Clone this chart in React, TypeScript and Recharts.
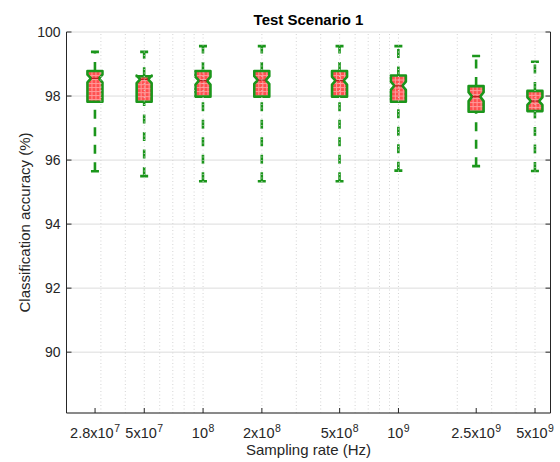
import React from 'react';
import { ComposedChart, Bar, XAxis, YAxis, CartesianGrid, ReferenceLine } from 'recharts';

const rates = [2.8e7, 5e7, 1e8, 2e8, 5e8, 1e9, 2.5e9, 5e9];
const xTickMant = ['2.8x10', '5x10', '10', '2x10', '5x10', '10', '2.5x10', '5x10'];
const xTickExp = ['7', '7', '8', '8', '8', '9', '9', '9'];
const upperCap = [99.38, 99.38, 99.56, 99.56, 99.56, 99.56, 99.25, 99.07];
const q3 = [98.78, 98.62, 98.78, 98.78, 98.78, 98.64, 98.31, 98.16];
const median = [98.55, 98.52, 98.48, 98.5, 98.48, 98.32, 97.98, 97.84];
const q1 = [97.82, 97.82, 97.98, 97.98, 97.98, 97.82, 97.51, 97.53];
const lowerCap = [95.65, 95.5, 95.34, 95.34, 95.34, 95.67, 95.81, 95.66];
const notch = [0.12, 0.12, 0.12, 0.12, 0.12, 0.13, 0.14, 0.12];
const yTicks = [90, 92, 94, 96, 98, 100];
const minorGrid = [
  3e7, 4e7, 5e7, 6e7, 7e7, 8e7, 9e7,
  1e8, 2e8, 3e8, 4e8, 5e8, 6e8, 7e8, 8e8, 9e8,
  1e9, 2e9, 3e9, 4e9, 5e9,
];

const FONT = '"Liberation Sans", Arial, Helvetica, sans-serif';
const GREEN = '#1b961b';
const TXT = '#262626';
const XFS = 14.5;
const EFS = 10.5;

const charW = (c: string) => (c === '.' ? 0.278 : c === 'x' ? 0.5 : 0.556);
const textW = (s: string, fs: number) => s.split('').reduce((a, c) => a + charW(c) * fs, 0);

const BoxShape = (props: any) => {
  const { x, y, width, height, payload, index } = props;
  if (x == null || y == null) return null;
  const top = Math.min(y, y + height);
  const h = Math.abs(height);
  const { lo, hi } = payload;
  const py = (v: number) => top + ((hi - v) / (hi - lo)) * h;
  const cx = x + width / 2;
  const hw = 7.5;
  const nw = 4;
  const yTop = py(payload.q3);
  const yBot = py(payload.q1);
  const yMed = py(payload.med);
  const yNu = py(payload.med + payload.notch);
  const yNl = py(payload.med - payload.notch);
  const yHi = py(hi);
  const yLo = py(lo);
  const pid = `hatch-${index}`;
  const d = [
    `M${cx - hw},${yBot}`,
    `L${cx - hw},${yNl}`,
    `L${cx - nw},${yMed}`,
    `L${cx - hw},${yNu}`,
    `L${cx - hw},${yTop}`,
    `L${cx + hw},${yTop}`,
    `L${cx + hw},${yNu}`,
    `L${cx + nw},${yMed}`,
    `L${cx + hw},${yNl}`,
    `L${cx + hw},${yBot}`,
    'Z',
  ].join(' ');
  return (
    <g>
      <defs>
        <pattern id={pid} patternUnits="userSpaceOnUse" width={4} height={4} x={cx - hw} y={yTop}>
          <rect x={0} y={0} width={4} height={4} fill="#ff4f4f" />
          <line x1={0} y1={0.5} x2={4} y2={0.5} stroke="#ff9a9a" strokeWidth={1} />
          <line x1={0.5} y1={0} x2={0.5} y2={4} stroke="#ff9a9a" strokeWidth={1} />
        </pattern>
      </defs>
      <line x1={cx} y1={yLo} x2={cx} y2={yBot} stroke={GREEN} strokeWidth={2.6} strokeDasharray="9 8.5" />
      <line x1={cx} y1={yTop} x2={cx} y2={yHi} stroke={GREEN} strokeWidth={2.6} strokeDasharray="9 8.5" />
      <line x1={cx - 4} y1={yHi} x2={cx + 4} y2={yHi} stroke={GREEN} strokeWidth={2.6} />
      <line x1={cx - 4} y1={yLo} x2={cx + 4} y2={yLo} stroke={GREEN} strokeWidth={2.6} />
      <path d={d} fill={`url(#${pid})`} stroke={GREEN} strokeWidth={2.6} strokeLinejoin="round" />
      <line x1={cx - nw} y1={yMed} x2={cx + nw} y2={yMed} stroke="#b52222" strokeWidth={1.2} />
    </g>
  );
};

const XTick = (props: any) => {
  const { x, y, payload } = props;
  const i = rates.indexOf(payload.value);
  const mant = xTickMant[i] ?? '';
  const ex = xTickExp[i] ?? '';
  const mw = textW(mant, XFS);
  const ew = textW(ex, EFS);
  const start = x - (mw + ew + 0.5) / 2;
  return (
    <g>
      <line x1={x} y1={y} x2={x} y2={y - 5} stroke={TXT} strokeWidth={1} />
      <text x={start} y={y + 24.5} textAnchor="start" fontFamily={FONT} fontSize={XFS} fill={TXT}>
        {mant}
      </text>
      <text x={start + mw + 0.5} y={y + 18.5} textAnchor="start" fontFamily={FONT} fontSize={EFS} fill={TXT}>
        {ex}
      </text>
    </g>
  );
};

const TopTick = (props: any) => {
  const { x, y } = props;
  return <line x1={x} y1={y} x2={x} y2={y + 5} stroke={TXT} strokeWidth={1} />;
};

const YTick = (props: any) => {
  const { x, y, payload } = props;
  return (
    <g>
      <line x1={x} y1={y} x2={x + 5} y2={y} stroke={TXT} strokeWidth={1} />
      <text x={x - 6} y={y} dy="0.36em" textAnchor="end" fontFamily={FONT} fontSize={14} fill={TXT}>
        {payload.value}
      </text>
    </g>
  );
};

const RTick = (props: any) => {
  const { x, y } = props;
  return <line x1={x} y1={y} x2={x - 5} y2={y} stroke={TXT} strokeWidth={1} />;
};

export default function App() {
  const data = rates.map((rate, i) => ({
    rate,
    range: [lowerCap[i], upperCap[i]],
    lo: lowerCap[i],
    hi: upperCap[i],
    q1: q1[i],
    med: median[i],
    q3: q3[i],
    notch: notch[i],
  }));
  return (
    <div style={{ position: 'absolute', left: 0, top: 0, background: '#fff' }}>
      <ComposedChart width={560} height={462} data={data} margin={{ top: 32, right: 0, bottom: 0, left: 0 }}>
        <CartesianGrid vertical={false} stroke="#dcdcdc" strokeWidth={1} />
        {minorGrid.map((v) => (
          <ReferenceLine key={v} x={v} stroke="#d4d4d4" strokeDasharray="1 2.5" ifOverflow="hidden" />
        ))}
        <XAxis
          dataKey="rate"
          type="number"
          scale="log"
          domain={[2e7, 6e9]}
          allowDataOverflow
          ticks={rates}
          interval={0}
          height={49}
          tickSize={0}
          tickMargin={0}
          tickLine={false}
          axisLine={{ stroke: TXT, strokeWidth: 1 }}
          tick={(p: any) => <XTick {...p} />}
        />
        <XAxis
          xAxisId="t"
          orientation="top"
          type="number"
          scale="log"
          domain={[2e7, 6e9]}
          allowDataOverflow
          ticks={rates}
          interval={0}
          height={0}
          tickSize={0}
          tickMargin={0}
          tickLine={false}
          axisLine={{ stroke: TXT, strokeWidth: 1 }}
          tick={(p: any) => <TopTick {...p} />}
        />
        <YAxis
          type="number"
          domain={[88.1, 100]}
          allowDataOverflow
          ticks={yTicks}
          interval={0}
          width={66.5}
          tickSize={0}
          tickMargin={0}
          tickLine={false}
          axisLine={{ stroke: TXT, strokeWidth: 1 }}
          tick={(p: any) => <YTick {...p} />}
        />
        <YAxis
          yAxisId="r"
          orientation="right"
          type="number"
          domain={[88.1, 100]}
          allowDataOverflow
          ticks={yTicks}
          interval={0}
          width={9.5}
          tickSize={0}
          tickMargin={0}
          tickLine={false}
          axisLine={{ stroke: TXT, strokeWidth: 1 }}
          tick={(p: any) => <RTick {...p} />}
        />
        <Bar dataKey="range" barSize={15} isAnimationActive={false} shape={(p: any) => <BoxShape {...p} />} />
        <text x={308.5} y={25} textAnchor="middle" fontFamily={FONT} fontSize={15} fontWeight="bold" fill="#000">
          Test Scenario 1
        </text>
        <text x={308.5} y={455} textAnchor="middle" fontFamily={FONT} fontSize={15} fill={TXT}>
          Sampling rate (Hz)
        </text>
        <text x={-222.5} y={30} transform="rotate(-90)" textAnchor="middle" fontFamily={FONT} fontSize={15} fill={TXT}>
          Classification accuracy (%)
        </text>
      </ComposedChart>
    </div>
  );
}
